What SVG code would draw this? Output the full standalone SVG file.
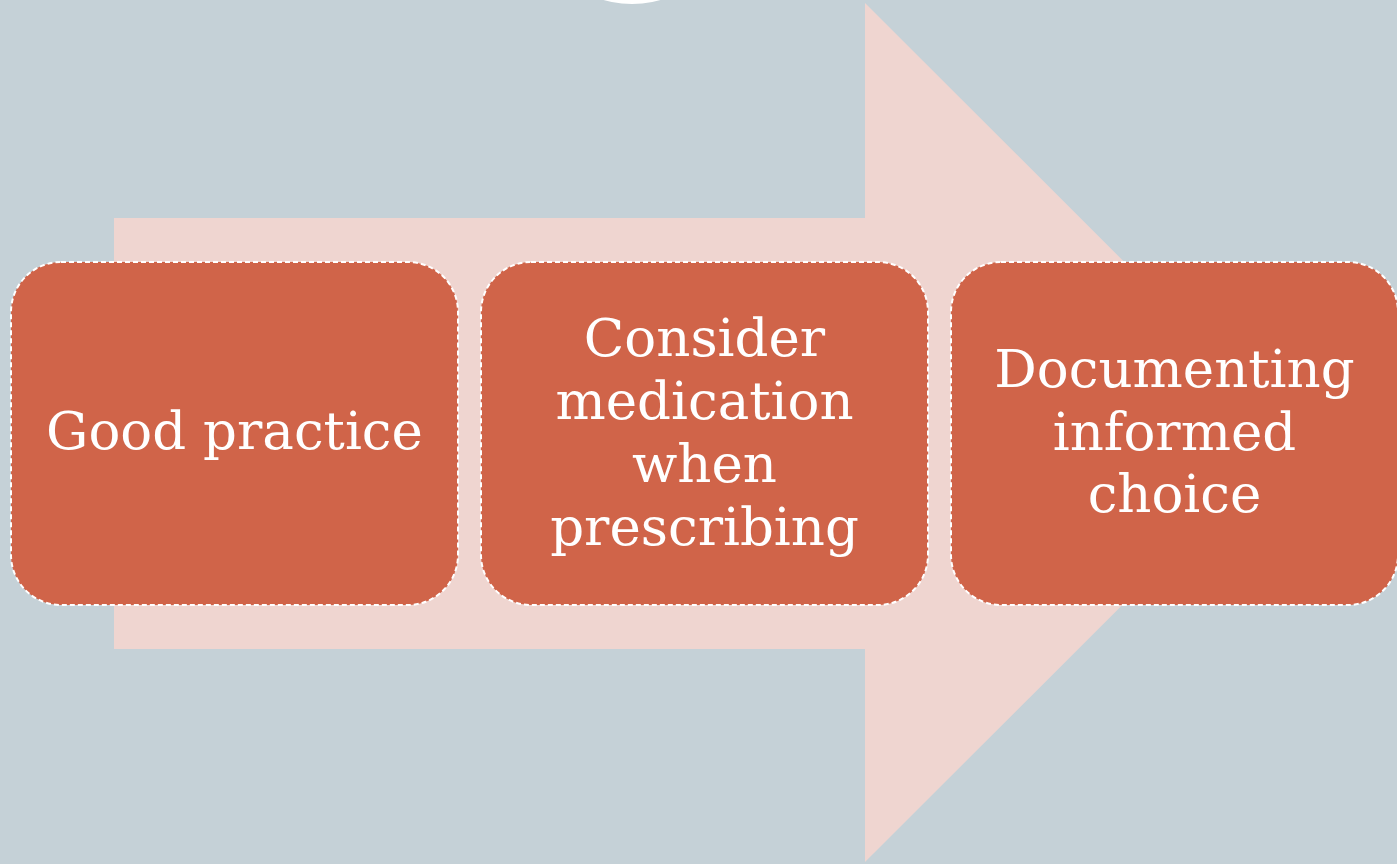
<svg xmlns="http://www.w3.org/2000/svg" width="1397" height="864" viewBox="0 0 1397 864">
<style>
.box{fill:#D06449;stroke:#FFFFFF;stroke-width:2;stroke-dasharray:5 3}
.lbl{font-family:"DejaVu Serif","Liberation Serif",serif;font-size:53px;fill:#FFFFFF;text-anchor:middle}
</style>
<rect x="0" y="0" width="1397" height="864" fill="#C5D1D7"/>
<circle cx="632" cy="-100" r="104" fill="#FFFFFF"/>
<g id="arrow">
<polygon points="114,218 865,218 865,3 1295,432.5 865,862 865,649 114,649" fill="#EFD5D0"/>
</g>
<g id="connectors"></g>
<g id="node1">
<rect class="box" x="11" y="262" width="447" height="343" rx="50" ry="50"/>
<text class="lbl" x="234.5" y="449">Good practice</text>
</g>
<g id="node2">
<rect class="box" x="481" y="262" width="447" height="343" rx="50" ry="50"/>
<text class="lbl" x="704.5" y="356">Consider</text>
<text class="lbl" x="704.5" y="419">medication</text>
<text class="lbl" x="704.5" y="482">when</text>
<text class="lbl" x="704.5" y="545">prescribing</text>
</g>
<g id="node3">
<rect class="box" x="951" y="262" width="447" height="343" rx="50" ry="50"/>
<text class="lbl" x="1174.5" y="387">Documenting</text>
<text class="lbl" x="1174.5" y="450">informed</text>
<text class="lbl" x="1174.5" y="512">choice</text>
</g>
</svg>
